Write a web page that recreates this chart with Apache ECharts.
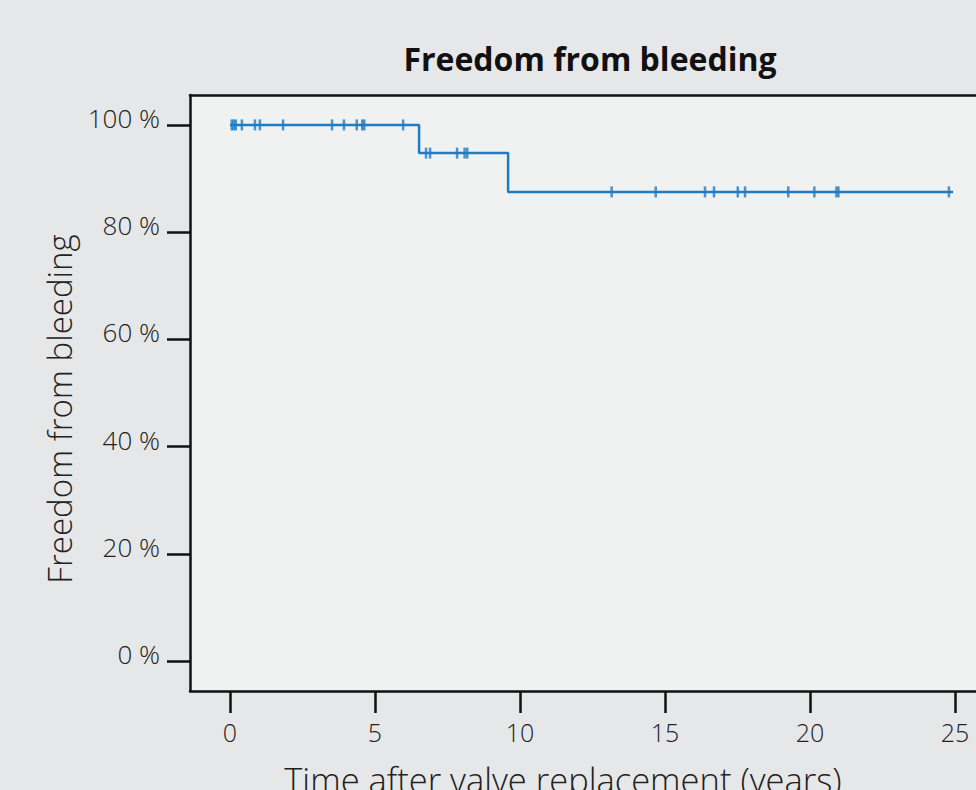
<!DOCTYPE html>
<html>
<head>
<meta charset="utf-8">
<script src="https://cdn.jsdelivr.net/npm/echarts@6/dist/echarts.min.js"></script>
<style>
html,body{margin:0;padding:0;background:#e6e7e8;}
#chart{width:976px;height:790px;}
</style>
</head>
<body>
<div id="chart"></div>
<script>
const chartTitle = 'Freedom from bleeding';
const xAxisTitle = 'Time after valve replacement (years)';
const yAxisTitle = 'Freedom from bleeding';
const xTicks = [0, 5, 10, 15, 20, 25];
const yTicks = [0, 20, 40, 60, 80, 100];
// Kaplan-Meier steps: time (years) and survival (%)
const stepTimes = [0, 6.52, 9.59, 24.93];
const stepSurvival = [100, 94.74, 87.5, 87.5];
// censored observations (years)
const censorTimes = [0.06, 0.13, 0.2, 0.41, 0.86, 1.03, 1.83, 3.52, 3.93, 4.37, 4.56, 4.63, 5.97,
  6.76, 6.9, 7.83, 8.09, 8.18,
  13.16, 14.68, 16.38, 16.69, 17.51, 17.76, 19.25, 20.15, 20.91, 20.98, 24.79];

const FONT = "'Open Sans', sans-serif";
const LINE = '#1f7bc2';
const INK = '#111111';
const X_MIN = -1.379, X_MAX = 25.724;

function survivalAt(t) {
  let s = stepSurvival[0];
  for (let i = 0; i < stepTimes.length; i++) {
    if (stepTimes[i] <= t) s = stepSurvival[i];
  }
  return s;
}

const stepData = stepTimes.map((t, i) => [t, stepSurvival[i]]);
const censorData = censorTimes.map(t => [t, survivalAt(t)]);

const chart = echarts.init(document.getElementById('chart'), null, {renderer: 'svg'});
chart.setOption({
  backgroundColor: '#e6e7e8',
  animation: false,
  grid: {
    left: 190, top: 95, width: 786, height: 596,
    show: true, backgroundColor: '#f0f1f1', borderWidth: 0
  },
  xAxis: [{
    type: 'value', min: X_MIN, max: X_MAX, position: 'bottom',
    axisLine: {show: true, onZero: false, lineStyle: {color: INK, width: 2.5}},
    axisTick: {show: true, customValues: xTicks, length: 22, lineStyle: {color: INK, width: 2.5}},
    axisLabel: {customValues: xTicks, margin: 28, color: '#222', fontSize: 25, fontFamily: FONT, fontWeight: 300},
    splitLine: {show: false}
  }, {
    type: 'value', min: X_MIN, max: X_MAX, position: 'top',
    axisLine: {show: true, onZero: false, lineStyle: {color: INK, width: 2.5}},
    axisTick: {show: false}, axisLabel: {show: false}, splitLine: {show: false}
  }],
  yAxis: {
    type: 'value', min: -5.6, max: 105.58,
    axisLine: {show: true, onZero: false, lineStyle: {color: INK, width: 2.5}},
    axisTick: {show: true, customValues: yTicks, length: 23, lineStyle: {color: INK, width: 2.5}},
    axisLabel: {customValues: yTicks, margin: 30, color: '#222', fontSize: 26, fontFamily: FONT, fontWeight: 300,
      verticalAlign: 'bottom', lineHeight: 14, formatter: v => v + ' %'},
    splitLine: {show: false}
  },
  graphic: [
    {type: 'text', x: 590, y: 58, style: {text: chartTitle, fill: '#111', font: "bold 32px 'Open Sans', sans-serif", align: 'center', verticalAlign: 'middle'}},
    {type: 'text', x: 563, y: 779, style: {text: xAxisTitle, fill: '#222', font: "300 34.5px 'Open Sans', sans-serif", align: 'center', verticalAlign: 'middle'}},
    {type: 'text', x: 59, y: 409, rotation: Math.PI / 2, style: {text: yAxisTitle, fill: '#222', font: "300 33px 'Open Sans', sans-serif", align: 'center', verticalAlign: 'middle'}}
  ],
  series: [
    {
      type: 'line', step: 'end', data: stepData, symbol: 'none', xAxisIndex: 0,
      lineStyle: {color: LINE, width: 2.5}
    },
    {
      type: 'scatter', data: censorData, symbol: 'rect', symbolSize: [2.5, 11], xAxisIndex: 0,
      itemStyle: {color: LINE}
    }
  ]
});
</script>
</body>
</html>
